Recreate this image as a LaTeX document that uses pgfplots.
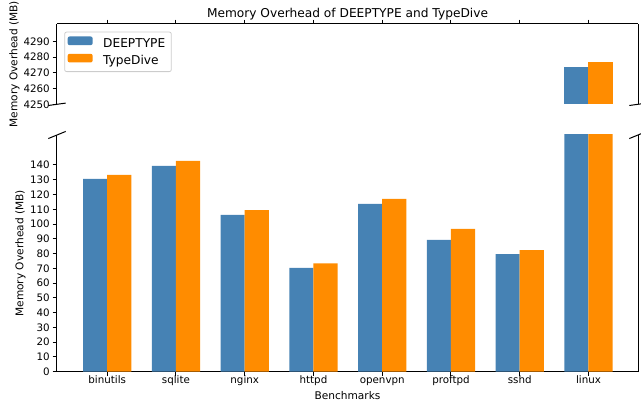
\documentclass[border=0pt]{standalone}
\usepackage{pgfplots}
\usepackage{pgfplotstable}
\pgfplotsset{compat=1.18}
\usepackage{fontspec}
\setmainfont{DejaVu Sans}
\definecolor{steelblue}{RGB}{70,130,180}
\definecolor{darkorange}{RGB}{255,140,0}
\definecolor{legendedge}{RGB}{204,204,204}
\pgfplotstableread{
x name deeptype typedive
0 binutils 130.5 133.3
1 sqlite 139.4 142.7
2 nginx 106.2 109.5
3 httpd 70.3 73.4
4 openvpn 113.6 117.0
5 proftpd 89.2 96.7
6 sshd 79.7 82.4
7 linux 4273.9 4276.8
}\datatable
\pgfplotsset{
  every axis title shift=0pt,
  common/.style={
    scale only axis, width=581pt,
    xmin=-0.73, xmax=7.72,
    xtick={0,...,7},
    axis y line*=box,
    ytick pos=left,
    tick align=outside,
    major tick length=4.3pt,
    axis line style={black, line width=1pt},
    every tick/.style={black, line width=1pt},
    ticklabel style={font=\fontsize{10.3}{12}\selectfont},
    /pgf/number format/assume math mode=true,
    /pgf/number format/1000 sep={},
    label style={font=\fontsize{10.6}{12}\selectfont},
    ylabel={Memory Overhead (MB)},
    clip mode=individual,
    yticklabel style={inner sep=0pt, xshift=-2.7pt},
  },
  deep/.style={ybar, bar width=0.35, bar shift=-0.175, fill=steelblue, draw=none},
  tdive/.style={ybar, bar width=0.35, bar shift=0.175, fill=darkorange, draw=none},
}
\begin{document}
\begin{tikzpicture}
\useasboundingbox (0pt,0pt) rectangle (641pt,404pt);
% top axis
\begin{axis}[common,
  at={(57pt,299.7pt)}, anchor=south west,
  height=80.3pt,
  ymin=4250, ymax=4301,
  restrict y to domain=4250:5000,
  ytick={4250,4260,4270,4280,4290},
  axis x line*=top,
  xticklabels={},
  ylabel style={at={(axis description cs:-0.0731,0.5)}, anchor=center},
  title={Memory Overhead of DEEPTYPE and TypeDive},
  title style={at={(axis description cs:0.5,1)}, anchor=base, yshift=6pt, inner sep=0pt, font=\fontsize{12.2}{14}\selectfont},
  legend style={at={(axis description cs:0.0125,0.905)}, anchor=north west,
    draw=legendedge, line width=0.8pt, rounded corners=2pt, fill=white,
    font=\fontsize{12.2}{14}\selectfont, inner xsep=3pt, inner ysep=2.5pt,
    row sep=0pt, column sep=7.5pt,
    nodes={inner xsep=3pt, inner ysep=4.3pt, text height=8.7pt, text depth=0pt}},
  legend cell align=left,
  legend image code/.code={\fill[#1] (0pt,-2pt) rectangle (25pt,6.7pt);},
]
\addplot[deep] table[x=x,y=deeptype]{\datatable};
\addlegendentry{DEEPTYPE}
\addplot[tdive] table[x=x,y=typedive]{\datatable};
\addlegendentry{TypeDive}
\draw[line width=1pt] (rel axis cs:-0.015,-0.015) -- (rel axis cs:0.015,0.015);
\draw[line width=1pt] (rel axis cs:0.985,-0.015) -- (rel axis cs:1.015,0.015);
\end{axis}
% bottom axis
\begin{axis}[common,
  at={(57pt,32.3pt)}, anchor=south west,
  height=236.7pt,
  ymin=0, ymax=160.3,
  ytick={0,10,...,140},
  axis x line*=bottom,
  xticklabels={binutils,sqlite,nginx,httpd,openvpn,proftpd,sshd,linux},
  xticklabel style={inner sep=0pt, anchor=north, text height=7.8pt, text depth=2.4pt},
  xlabel={Benchmarks},
  xlabel style={at={(axis description cs:0.5,0)}, anchor=base, yshift=-27.7pt, inner sep=0pt},
  ylabel style={at={(axis description cs:-0.0628,0.5)}, anchor=center},
]
\addplot[deep] table[x=x,y=deeptype]{\datatable};
\addplot[tdive] table[x=x,y=typedive]{\datatable};
\draw[line width=1pt] (rel axis cs:-0.015,0.985) -- (rel axis cs:0.015,1.015);
\draw[line width=1pt] (rel axis cs:0.985,0.985) -- (rel axis cs:1.015,1.015);
\end{axis}
\end{tikzpicture}
\end{document}
